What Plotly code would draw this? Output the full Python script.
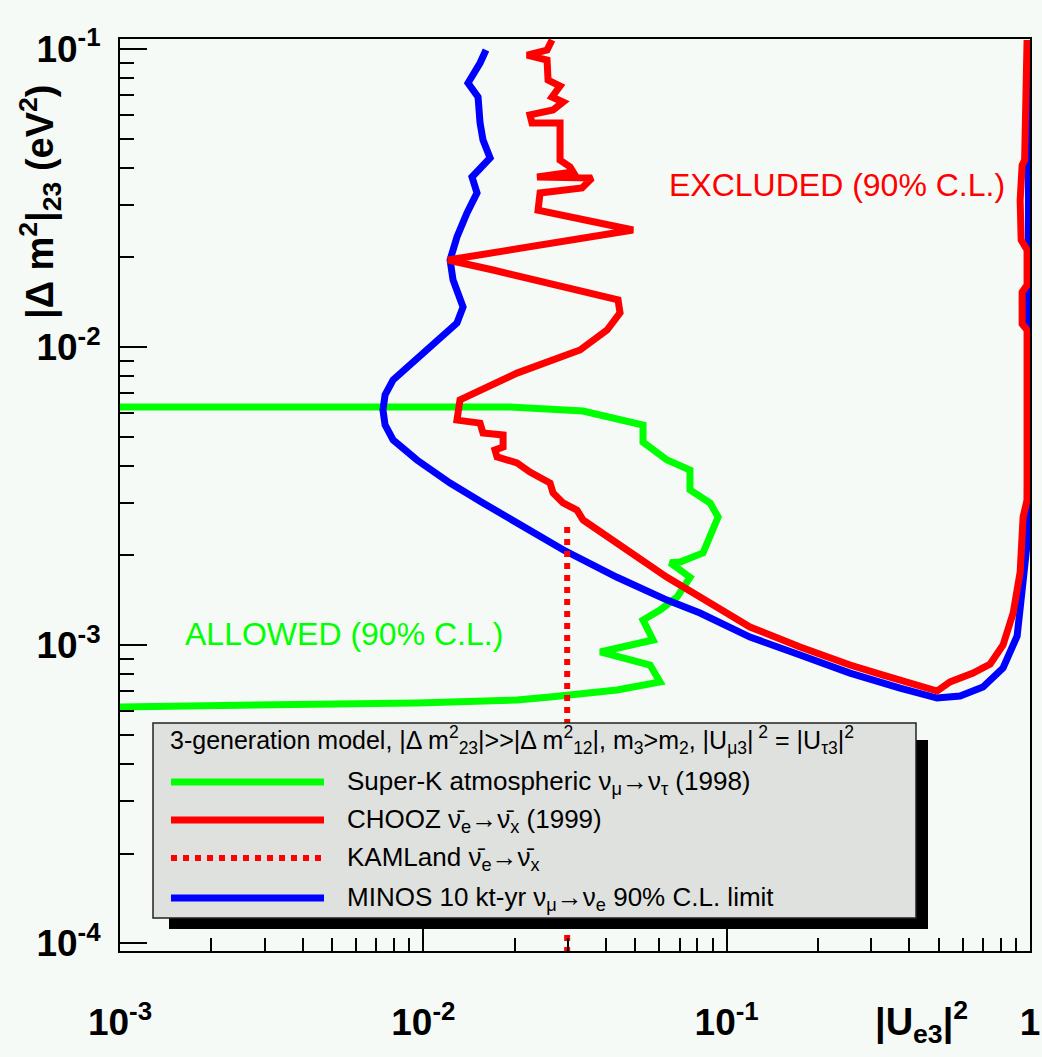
import plotly.graph_objects as go

# ---------------- data ----------------
superk_x = [0.001, 0.01931, 0.0336, 0.03913, 0.0530, 0.0530, 0.0636, 0.0757, 0.0757,
            0.0882, 0.0937, 0.0836, 0.0702, 0.0651, 0.0757, 0.0686, 0.0603, 0.0530,
            0.0572, 0.0383, 0.0559, 0.0603, 0.04351, 0.02617, 0.02036, 0.00953,
            0.001462, 0.001]
superk_y = [0.00630, 0.00630, 0.00610, 0.00587, 0.00548, 0.00480, 0.00418, 0.00387, 0.00332,
            0.00300, 0.00269, 0.00204, 0.00190, 0.00189, 0.00169, 0.00145, 0.001312, 0.001215,
            0.001041, 0.000949, 0.000858, 0.000753, 0.000708, 0.000670, 0.000655, 0.000640,
            0.000630, 0.000621]

chooz_x = [0.02656, 0.02558, 0.02197, 0.02558, 0.02577, 0.02823, 0.02656, 0.02888, 0.02677,
           0.02247, 0.02282, 0.02823, 0.02823, 0.03046, 0.03115, 0.02371, 0.03599, 0.03336,
           0.02426, 0.02389, 0.04914, 0.01206, 0.01698, 0.04384, 0.04451, 0.04033, 0.03285,
           0.02036, 0.01321, 0.01291, 0.01538, 0.01573, 0.01832, 0.01832, 0.01723, 0.01750,
           0.02036, 0.02247, 0.02617, 0.02677, 0.02888, 0.03211, 0.03362, 0.04351, 0.05183,
           0.0636, 0.0817, 0.0930, 0.1194, 0.1746, 0.2551, 0.328, 0.424, 0.494, 0.545,
           0.649, 0.739, 0.815, 0.880, 0.928, 0.949, 0.978, 0.978, 0.942, 0.942, 0.978,
           0.978, 0.935, 0.928, 0.942, 0.960, 0.978]
chooz_y = [0.1072, 0.0992, 0.0954, 0.0918, 0.0787, 0.0751, 0.0690, 0.0664, 0.0624,
           0.0601, 0.0565, 0.0565, 0.0424, 0.0402, 0.0387, 0.0372, 0.0369, 0.0342,
           0.0329, 0.0288, 0.0247, 0.0196, 0.01814, 0.01439, 0.01302, 0.01141, 0.00978,
           0.00818, 0.00665, 0.00569, 0.00556, 0.00515, 0.00507, 0.00462, 0.00452, 0.00428,
           0.00409, 0.00381, 0.00350, 0.00324, 0.00300, 0.00284, 0.00263, 0.00220, 0.00193,
           0.00169, 0.00145, 0.001343, 0.001151, 0.000986, 0.000858, 0.000794, 0.000741,
           0.000702, 0.000753, 0.000806, 0.000865, 0.001002, 0.001282, 0.001760, 0.00269,
           0.00307, 0.01141, 0.01195, 0.01530, 0.01616, 0.02117, 0.02287, 0.0311, 0.0408,
           0.0424, 0.1072]

kamland_x = [0.0298, 0.0298]
kamland_y = [0.00249, 0.00009]

minos_x = [0.01609, 0.01538, 0.01404, 0.01515, 0.01538, 0.01573, 0.01660, 0.01447, 0.01503,
           0.01393, 0.01291, 0.01225, 0.01253, 0.01352, 0.01291, 0.01052, 0.00857, 0.00795,
           0.00748, 0.00736, 0.00748, 0.00795, 0.00953, 0.01225, 0.01573, 0.02036, 0.02888,
           0.04351, 0.0636, 0.0817, 0.1194, 0.1746, 0.2551, 0.3729, 0.4940, 0.588, 0.700,
           0.815, 0.907, 0.949, 0.978, 0.9856, 0.99, 0.99]
minos_y = [0.0992, 0.0897, 0.0769, 0.0690, 0.0565, 0.0495, 0.0431, 0.0372, 0.0329,
           0.0282, 0.0234, 0.0196, 0.0168, 0.01363, 0.01204, 0.0100, 0.00838, 0.00776,
           0.00691, 0.00615, 0.00548, 0.00488, 0.00418, 0.00350, 0.00300, 0.00257, 0.00209,
           0.00169, 0.001417, 0.001282, 0.001065, 0.000927, 0.000806, 0.000718, 0.000665,
           0.000675, 0.000724, 0.000839, 0.001074, 0.001642, 0.002185, 0.0068, 0.0399, 0.1]

x_tickvals = [0.001, 0.01, 0.1, 1]
x_ticktext = ["10<sup>-3</sup>", "10<sup>-2</sup>", "10<sup>-1</sup>", "1"]
y_tickvals = [0.0001, 0.001, 0.01, 0.1]
y_ticktext = ["10<sup>-4</sup>", "10<sup>-3</sup>", "10<sup>-2</sup>", "10<sup>-1</sup>"]

legend_header = ("3-generation model, |Δ m<sup>2</sup><sub>23</sub>|&gt;&gt;|Δ m<sup>2</sup><sub>12</sub>|, "
                 "m<sub>3</sub>&gt;m<sub>2</sub>, |U<sub>μ3</sub>|<sup> 2</sup> = |U<sub>τ3</sub>|<sup>2</sup>")
legend_labels = ["Super-K atmospheric ν<sub>μ</sub>→ν<sub>τ</sub> (1998)",
                 "CHOOZ ν\u0304<sub>e</sub>→ν\u0304<sub>x</sub> (1999)",
                 "KAMLand ν\u0304<sub>e</sub>→ν\u0304<sub>x</sub>",
                 "MINOS 10 kt-yr ν<sub>μ</sub>→ν<sub>e</sub> 90% C.L. limit"]

GREEN = "#00ff00"
RED = "#ff0000"
BLUE = "#0000ff"
BG = "#f6faf6"

minor_x = [m * 10.0 ** e for e in (-3, -2, -1) for m in range(2, 10)]
minor_y = [m * 10.0 ** e for e in (-4, -3, -2) for m in range(2, 10)]

fig = go.Figure()
fig.add_trace(go.Scatter(x=superk_x, y=superk_y, mode="lines",
                         line=dict(color=GREEN, width=7), name=legend_labels[0]))
fig.add_trace(go.Scatter(x=minos_x, y=minos_y, mode="lines",
                         line=dict(color=BLUE, width=7), name=legend_labels[3]))
fig.add_trace(go.Scatter(x=chooz_x, y=chooz_y, mode="lines",
                         line=dict(color=RED, width=7), name=legend_labels[1]))
fig.add_trace(go.Scatter(x=kamland_x, y=kamland_y, mode="lines",
                         line=dict(color=RED, width=6, dash="dot"), name=legend_labels[2]))

# pixel helpers for the hand-built legend box (paper coordinates)
L, R, T, B = 120, 1030, 39, 951
def px(xp):
    return (xp - L) / (R - L)
def py(yp):
    return (B - yp) / (B - T)

shapes = [
    dict(type="rect", xref="paper", yref="paper", x0=px(169), x1=px(928), y0=py(929), y1=py(740),
         fillcolor="black", line=dict(width=0), layer="above"),
    dict(type="rect", xref="paper", yref="paper", x0=px(153), x1=px(916), y0=py(918), y1=py(723),
         fillcolor="#dfe1df", line=dict(color="#222222", width=1.5), layer="above"),
]
row_y = [782, 820, 858, 898]
row_style = [dict(color=GREEN, width=7), dict(color=RED, width=7),
             dict(color=RED, width=6, dash="dot"), dict(color=BLUE, width=7)]
for yy, st in zip(row_y, row_style):
    shapes.append(dict(type="line", xref="paper", yref="paper", x0=px(171), x1=px(324),
                       y0=py(yy), y1=py(yy), line=st, layer="above"))

lfont = dict(family="Liberation Sans", size=26, color="black")
annotations = [
    dict(text=legend_header, xref="paper", yref="paper", x=px(168), y=py(740),
         xanchor="left", yanchor="middle", showarrow=False,
         font=dict(family="Liberation Sans", size=25, color="black")),
]
for yy, lab in zip(row_y, legend_labels):
    annotations.append(dict(text=lab, xref="paper", yref="paper", x=px(345), y=py(yy),
                            xanchor="left", yanchor="middle", showarrow=False, font=lfont))

annotations += [
    dict(text="EXCLUDED (90% C.L.)", xref="paper", yref="paper", x=px(667), y=py(185),
         xanchor="left", yanchor="middle", showarrow=False,
         font=dict(family="Liberation Sans", size=32, color=RED)),
    dict(text="ALLOWED (90% C.L.)", xref="paper", yref="paper", x=px(183), y=py(634),
         xanchor="left", yanchor="middle", showarrow=False,
         font=dict(family="Liberation Sans", size=32, color=GREEN)),
    dict(text="|Δ m<sup>2</sup>|<sub>23</sub> (eV<sup>2</sup>)", xref="paper", yref="paper",
         x=px(40), y=py(202), xanchor="center", yanchor="middle", textangle=-90, showarrow=False,
         font=dict(family="Liberation Sans", size=38, color="black", weight="bold")),
    dict(text="|U<sub>e3</sub>|<sup>2</sup>", xref="paper", yref="paper",
         x=px(921), y=py(1022), xanchor="center", yanchor="middle", showarrow=False,
         font=dict(family="Liberation Sans", size=38, color="black", weight="bold")),
]

tickfont = dict(family="Liberation Sans", size=37, color="black", weight="bold")
common = dict(type="log", showgrid=False, zeroline=False, showline=True, linewidth=2,
              linecolor="black", mirror=True, ticks="inside", tickwidth=2, tickcolor="black",
              tickmode="array", tickfont=tickfont, automargin=False)

fig.update_layout(
    width=1042, height=1057,
    margin=dict(l=L, r=1042 - R, t=T, b=1057 - B, autoexpand=False),
    paper_bgcolor=BG, plot_bgcolor=BG,
    showlegend=False,
    xaxis=dict(range=[-3, 0], tickvals=x_tickvals, ticktext=x_ticktext, ticklen=26,
               ticklabelstandoff=38,
               minor=dict(ticks="inside", ticklen=13, tickwidth=1.5, tickcolor="black",
                          tickmode="array", tickvals=minor_x, showgrid=False),
               **common),
    yaxis=dict(range=[-4.0258, -0.9665], tickvals=y_tickvals, ticktext=y_ticktext, ticklen=27,
               ticklabelstandoff=10,
               minor=dict(ticks="inside", ticklen=14, tickwidth=1.5, tickcolor="black",
                          tickmode="array", tickvals=minor_y, showgrid=False),
               **common),
    shapes=shapes,
    annotations=annotations,
)

fig.write_html("out.html")
